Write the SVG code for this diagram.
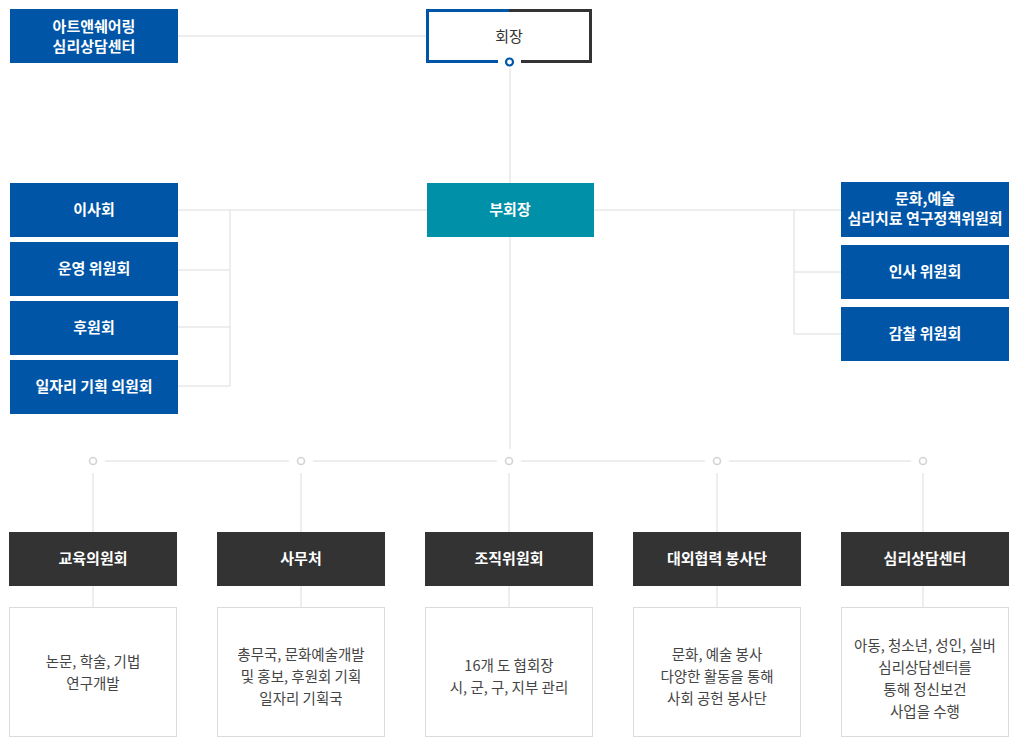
<svg xmlns="http://www.w3.org/2000/svg" width="1020" height="746" viewBox="0 0 1020 746">
<style>
text{font-family:"Noto Sans CJK KR","Noto Sans",sans-serif;font-size:15px;text-anchor:middle}
.b{fill:#0055a7}.w{fill:#fff;font-weight:bold}.d{fill:#333}.t{fill:#444;font-size:14.5px}
.ln{stroke:#dcdcdc;stroke-width:1;fill:none}
.dot{fill:#fff;stroke:#d4d4d4;stroke-width:1.6}
.desc{fill:#fff;stroke:#dcdcdc}
</style>
<rect width="1020" height="746" fill="#fff"/>
<g id="connectors" class="ln">
<path d="M178 36H426M510 68V449M178 210H427M230 210V386M178 270H230M178 327H230M178 386H230M594 210H841M794 210V334M794 272H841M794 334H841"/>
<path d="M105 461H289M313 461H497M521 461H705M729 461H911"/>
<path d="M93 473V532M93 586V607M301 473V532M301 586V607M509 473V532M509 586V607M717 473V532M717 586V607M923 473V532M923 586V607"/>
<circle class="dot" cx="93" cy="461" r="3.5"/><circle class="dot" cx="301" cy="461" r="3.5"/><circle class="dot" cx="509" cy="461" r="3.5"/><circle class="dot" cx="717" cy="461" r="3.5"/><circle class="dot" cx="923" cy="461" r="3.5"/>
</g>
<g id="chair">
<rect x="426" y="9" width="166" height="54" fill="#fff"/>
<path d="M509 10.5H427.5V61.5H498" stroke="#0055a7" stroke-width="3" fill="none"/>
<path d="M509 10.5H590.5V61.5H521" stroke="#333" stroke-width="3" fill="none"/>
<circle cx="509.5" cy="62" r="3.5" fill="#fff" stroke="#0055a7" stroke-width="2.2"/>
<text x="509" y="42" class="d" font-size="16">회장</text>
</g>
<g id="center"><rect x="10" y="9" width="168" height="54" class="b"/><text x="94" y="32" class="w">아트앤쉐어링</text><text x="94" y="52" class="w">심리상담센터</text></g>
<g id="vice"><rect x="427" y="183" width="167" height="54" fill="#0090a8"/><text x="510" y="215" class="w">부회장</text></g>
<g id="l1"><rect x="10" y="183" width="168" height="54" class="b"/><text x="94" y="215" class="w">이사회</text></g>
<g id="l2"><rect x="10" y="242" width="168" height="54" class="b"/><text x="94" y="274" class="w">운영 위원회</text></g>
<g id="l3"><rect x="10" y="301" width="168" height="54" class="b"/><text x="94" y="333" class="w">후원회</text></g>
<g id="l4"><rect x="10" y="360" width="168" height="54" class="b"/><text x="94" y="392" class="w">일자리 기획 의원회</text></g>
<g id="r1"><rect x="841" y="182" width="168" height="55" class="b"/><text x="925" y="204" class="w">문화,예술</text><text x="925" y="224" class="w">심리치료 연구정책위원회</text></g>
<g id="r2"><rect x="841" y="245" width="168" height="54" class="b"/><text x="925" y="277" class="w">인사 위원회</text></g>
<g id="r3"><rect x="841" y="307" width="168" height="54" class="b"/><text x="925" y="339" class="w">감찰 위원회</text></g>
<g id="c1"><rect x="9" y="532" width="168" height="54" fill="#333"/><text x="93" y="564" class="w">교육의원회</text>
<rect x="9.5" y="607.5" width="167" height="129" class="desc"/><text x="93" y="667" class="t">논문, 학술, 기법</text><text x="93" y="689" class="t">연구개발</text></g>
<g id="c2"><rect x="217" y="532" width="168" height="54" fill="#333"/><text x="301" y="564" class="w">사무처</text>
<rect x="217.5" y="607.5" width="167" height="129" class="desc"/><text x="301" y="660" class="t">총무국, 문화예술개발</text><text x="301" y="682" class="t">및 홍보, 후원회 기획</text><text x="301" y="704" class="t">일자리 기획국</text></g>
<g id="c3"><rect x="425" y="532" width="168" height="54" fill="#333"/><text x="509" y="564" class="w">조직위원회</text>
<rect x="425.5" y="607.5" width="167" height="129" class="desc"/><text x="509" y="671" class="t">16개 도 협회장</text><text x="509" y="693" class="t">시, 군, 구, 지부 관리</text></g>
<g id="c4"><rect x="633" y="532" width="168" height="54" fill="#333"/><text x="717" y="564" class="w">대외협력 봉사단</text>
<rect x="633.5" y="607.5" width="167" height="129" class="desc"/><text x="717" y="660" class="t">문화, 예술 봉사</text><text x="717" y="682" class="t">다양한 활동을 통해</text><text x="717" y="704" class="t">사회 공헌 봉사단</text></g>
<g id="c5"><rect x="841" y="532" width="168" height="54" fill="#333"/><text x="925" y="564" class="w">심리상담센터</text>
<rect x="841.5" y="607.5" width="167" height="129" class="desc"/><text x="925" y="651" class="t">아동, 청소년, 성인, 실버</text><text x="925" y="673" class="t">심리상담센터를</text><text x="925" y="695" class="t">통해 정신보건</text><text x="925" y="717" class="t">사업을 수행</text></g>
</svg>
